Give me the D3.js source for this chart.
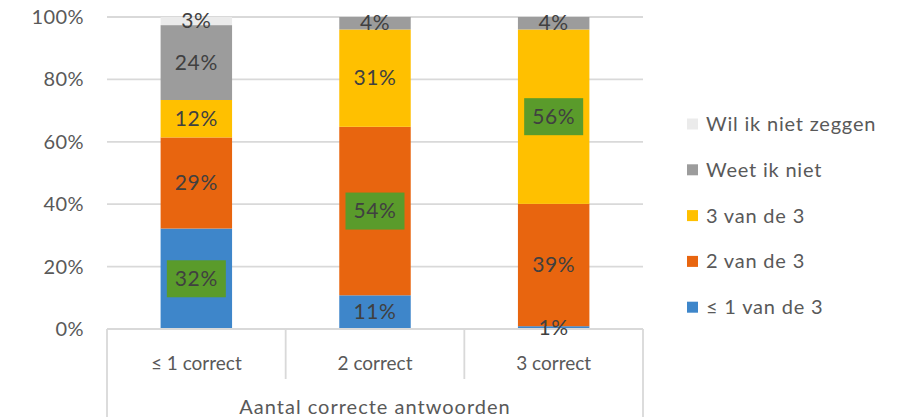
<!DOCTYPE html>
<meta charset="utf-8">
<script src="https://cdn.jsdelivr.net/npm/d3@7"></script>
<style>
 body { margin: 0; background: #fff; }
 text { font-family: Lato, "Open Sans", sans-serif; }
</style>
<div id="container"></div>
<script>
 var width = 902;
 var height = 417;

 // categories on the x axis
 var categories = ["≤ 1 correct", "2 correct", "3 correct"];
 // series, bottom to top of the stack
 var seriesNames = ["≤ 1 van de 3", "2 van de 3", "3 van de 3", "Weet ik niet", "Wil ik niet zeggen"];
 var seriesColors = ["#3E86CA", "#E8650F", "#FFC000", "#9C9C9C", "#EBEBEB"];
 // values (percent) per category, same order as seriesNames
 var lowValues     = [32.2, 10.8, 0.9];
 var twoValues     = [29.2, 54.0, 39.2];
 var threeValues   = [12.0, 31.2, 55.9];
 var dontKnowValues = [24.0, 4.0, 4.0];
 var noSayValues   = [2.6, 0, 0];
 // which label gets the green highlight box: [series index, category index]
 var highlighted = [[0, 0], [1, 1], [2, 2]];
 var yTicks = [0, 20, 40, 60, 80, 100];
 var axisTitle = "Aantal correcte antwoorden";

 var margin = {top: 17, left: 107, right: 259, bottom: 88};
 var plotW = width - margin.left - margin.right;
 var plotH = height - margin.top - margin.bottom;

 var rows = categories.map(function (c, i) {
     return {cat: c, s0: lowValues[i], s1: twoValues[i], s2: threeValues[i], s3: dontKnowValues[i], s4: noSayValues[i]};
 });
 var keys = ["s0", "s1", "s2", "s3", "s4"];
 var stacked = d3.stack().keys(keys)(rows);

 var svg = d3.select("#container").append("svg")
             .attr("width", width)
             .attr("height", height);

 var x = d3.scaleBand().domain(categories).range([margin.left, margin.left + plotW]).paddingInner(0).paddingOuter(0);
 var y = d3.scaleLinear().domain([0, 100]).range([margin.top + plotH, margin.top]);
 var barW = x.bandwidth() * 0.4;

 // gridlines
 svg.append("g").selectAll("line")
    .data(yTicks.filter(d => d > 0))
    .enter().append("line")
    .attr("x1", margin.left).attr("x2", margin.left + plotW)
    .attr("y1", d => y(d)).attr("y2", d => y(d))
    .attr("stroke", "#D9D9D9").attr("stroke-width", 1.8);

 // y tick labels
 svg.append("g").selectAll("text")
    .data(yTicks)
    .enter().append("text")
    .attr("x", 84)
    .attr("y", d => y(d) + 7)
    .attr("text-anchor", "end")
    .attr("font-size", 20)
    .attr("letter-spacing", 0.4)
    .attr("fill", "#595959")
    .text(d => d + "%");

 // bars
 var layers = svg.append("g").selectAll("g")
                 .data(stacked)
                 .enter().append("g")
                 .attr("fill", (d, i) => seriesColors[i]);

 layers.selectAll("rect")
       .data(d => d)
       .enter().append("rect")
       .attr("x", d => x(d.data.cat) + (x.bandwidth() - barW) / 2)
       .attr("y", d => y(d[1]))
       .attr("width", barW)
       .attr("height", d => y(d[0]) - y(d[1]));

 // category axis box
 var axisG = svg.append("g").attr("stroke", "#D9D9D9").attr("stroke-width", 1.8);
 var baseY = y(0);
 axisG.append("line").attr("x1", margin.left).attr("x2", margin.left + plotW).attr("y1", baseY).attr("y2", baseY);
 axisG.append("line").attr("x1", margin.left).attr("x2", margin.left).attr("y1", baseY).attr("y2", height);
 axisG.append("line").attr("x1", margin.left + plotW).attr("x2", margin.left + plotW).attr("y1", baseY).attr("y2", height);
 axisG.selectAll("line.sep")
      .data(categories.slice(1))
      .enter().append("line")
      .attr("class", "sep")
      .attr("x1", d => x(d)).attr("x2", d => x(d))
      .attr("y1", baseY).attr("y2", baseY + 50);

 svg.append("g").selectAll("text")
    .data(categories)
    .enter().append("text")
    .attr("x", d => x(d) + x.bandwidth() / 2)
    .attr("y", baseY + 41)
    .attr("text-anchor", "middle")
    .attr("font-size", 19)
    .attr("fill", "#595959")
    .text(d => d);

 svg.append("text")
    .attr("x", margin.left + plotW / 2)
    .attr("y", 414)
    .attr("text-anchor", "middle")
    .attr("font-size", 20)
    .attr("letter-spacing", 1)
    .attr("fill", "#595959")
    .text(axisTitle);

 // data labels
 var labels = [];
 stacked.forEach(function (layer, si) {
     layer.forEach(function (d, ci) {
         var v = d[1] - d[0];
         if (v <= 0) return;
         labels.push({si: si, ci: ci, v: v,
                      cx: x(d.data.cat) + x.bandwidth() / 2,
                      cy: (y(d[0]) + y(d[1])) / 2,
                      hi: highlighted.some(h => h[0] === si && h[1] === ci)});
     });
 });

 var lab = svg.append("g").selectAll("g")
              .data(labels)
              .enter().append("g");
 lab.filter(d => d.hi).append("rect")
    .attr("x", d => d.cx - 29.5)
    .attr("y", d => d.cy - 18.5)
    .attr("width", 59)
    .attr("height", 37)
    .attr("fill", "#5A9B2B");
 lab.append("text")
    .attr("x", d => d.cx)
    .attr("y", d => d.cy + 7)
    .attr("text-anchor", "middle")
    .attr("font-size", 21)
    .attr("letter-spacing", 0.6)
    .attr("fill", "#404040")
    .text(d => Math.round(d.v) + "%");

 // legend, top entry is the last series
 var legend = svg.append("g").selectAll("g")
                 .data(seriesNames.map((n, i) => ({name: n, i: i})).reverse())
                 .enter().append("g")
                 .attr("transform", (d, k) => `translate(687,${124 + k * 45.8})`);
 legend.append("rect")
       .attr("x", 0).attr("y", -5.5)
       .attr("width", 11).attr("height", 11)
       .attr("fill", d => seriesColors[d.i]);
 legend.append("text")
       .attr("x", 19)
       .attr("y", 7)
       .attr("font-size", 20)
       .attr("letter-spacing", 0.8)
       .attr("fill", "#595959")
       .text(d => d.name);
</script>
